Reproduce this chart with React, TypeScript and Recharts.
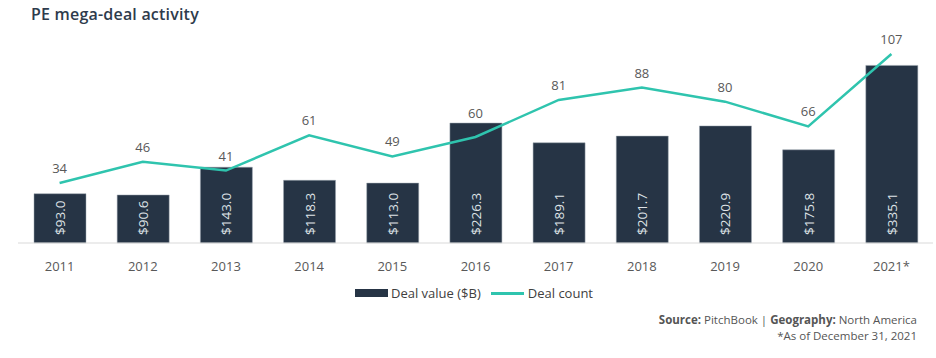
import React from 'react';
import { ComposedChart, Bar, Line, XAxis, YAxis, LabelList } from 'recharts';

const years = ['2011', '2012', '2013', '2014', '2015', '2016', '2017', '2018', '2019', '2020', '2021*'];
const dealValue = [93.0, 90.6, 143.0, 118.3, 113.0, 226.3, 189.1, 201.7, 220.9, 175.8, 335.1];
const dealCount = [34, 46, 41, 61, 49, 60, 81, 88, 80, 66, 107];

const data = years.map((year, i) => ({ year, value: dealValue[i], count: dealCount[i] }));

const BAR_COLOR = '#263445';
const LINE_COLOR = '#2fc4ae';
const TEXT_COLOR = '#595959';
const FONT = '"Open Sans", "Noto Sans", sans-serif';

const CHART_W = 936;
const CHART_H = 358;
const MARGIN = { top: 31, right: 3, bottom: 0, left: 18 };
const XAXIS_H = 115;
const VALUE_MAX = 400;
const COUNT_MAX = 120;
const PLOT_BOTTOM = CHART_H - MARGIN.bottom - XAXIS_H;
const PLOT_H = PLOT_BOTTOM - MARGIN.top;

const BarValueLabel = (props: any) => {
  const { x, y, width, height, value } = props;
  const cx = Number(x) + Number(width) / 2;
  const by = Number(y) + Number(height) - 8;
  return (
    <text
      x={cx}
      y={by}
      transform={`rotate(-90 ${cx} ${by})`}
      textAnchor="start"
      dominantBaseline="central"
      fill="#dfe3e7"
      fontSize={13.5}
      fontFamily={FONT}
    >
      {`$${Number(value).toFixed(1)}`}
    </text>
  );
};

const CountLabel = (props: any) => {
  const { x, y, value, index } = props;
  // keep the label clear of the bar underneath it
  const barTop = PLOT_BOTTOM - (dealValue[index] / VALUE_MAX) * PLOT_H;
  const baseline = Math.min(Number(y) - 10, barTop - 5);
  return (
    <text x={Number(x)} y={baseline} textAnchor="middle" fill={TEXT_COLOR} fontSize={13} fontFamily={FONT}>
      {value}
    </text>
  );
};

export default function App() {
  return (
    <div style={{ position: 'absolute', left: 0, top: 0, width: CHART_W, height: CHART_H, background: '#fff', fontFamily: FONT }}>
      <div
        style={{
          position: 'absolute',
          left: 31,
          top: 3,
          fontFamily: '"Open Sans", sans-serif',
          fontWeight: 600,
          fontSize: 16,
          letterSpacing: 0.2,
          color: '#2e3b4c',
          whiteSpace: 'nowrap',
        }}
      >
        PE mega-deal activity
      </div>
      <ComposedChart width={CHART_W} height={CHART_H} data={data} margin={MARGIN}>
        <XAxis
          dataKey="year"
          height={XAXIS_H}
          tickLine={false}
          axisLine={{ stroke: '#d9d9d9', strokeWidth: 1 }}
          tick={{ fill: TEXT_COLOR, fontSize: 13, fontFamily: FONT }}
          tickMargin={13}
          interval={0}
        />
        <YAxis yAxisId="left" hide domain={[0, VALUE_MAX]} />
        <YAxis yAxisId="right" hide orientation="right" domain={[0, COUNT_MAX]} />
        <Bar yAxisId="left" dataKey="value" name="Deal value ($B)" fill={BAR_COLOR} stroke="#9aa4ae" strokeWidth={0.5} barSize={52} isAnimationActive={false}>
          <LabelList dataKey="value" content={BarValueLabel} />
        </Bar>
        <Line
          yAxisId="right"
          dataKey="count"
          name="Deal count"
          type="linear"
          stroke={LINE_COLOR}
          strokeWidth={2.5}
          dot={false}
          activeDot={false}
          isAnimationActive={false}
        >
          <LabelList dataKey="count" content={CountLabel} />
        </Line>
      </ComposedChart>
      <div style={{ position: 'absolute', left: 355, top: 284, display: 'flex', alignItems: 'center', fontSize: 13, color: '#404040', whiteSpace: 'nowrap' }}>
        <span style={{ display: 'inline-block', width: 33, height: 8, background: BAR_COLOR, marginRight: 3 }} />
        <span>Deal value ($B)</span>
        <span style={{ display: 'inline-block', width: 33, height: 3, background: LINE_COLOR, marginLeft: 10, marginRight: 4 }} />
        <span>Deal count</span>
      </div>
      <div
        style={{
          position: 'absolute',
          right: 19,
          top: 312,
          textAlign: 'right',
          fontFamily: '"Open Sans", sans-serif',
          fontSize: 11.5,
          lineHeight: '16px',
          color: '#555',
          whiteSpace: 'nowrap',
        }}
      >
        <div>
          <b>Source:</b> PitchBook | <b>Geography:</b> North America
        </div>
        <div>*As of December 31, 2021</div>
      </div>
    </div>
  );
}
